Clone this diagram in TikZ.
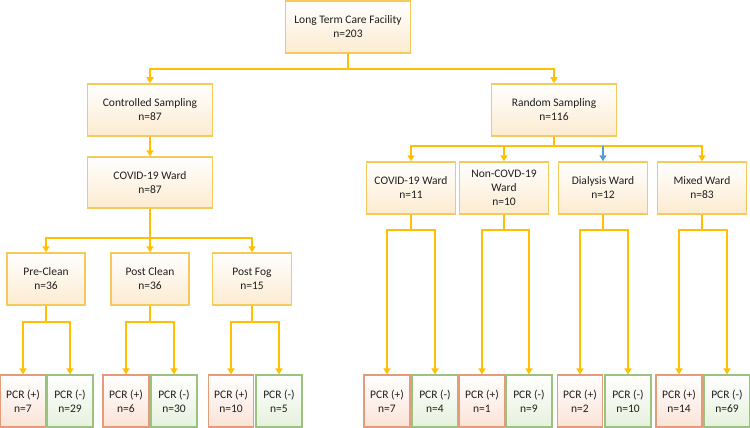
\documentclass[tikz,border=0pt]{standalone}
\usepackage{fontspec}
\setmainfont{Carlito}
\usetikzlibrary{arrows.meta}
\definecolor{gold}{HTML}{FFC000}
\definecolor{boxline}{HTML}{F5C95A}
\definecolor{cream}{HTML}{FCEBD0}
\definecolor{posline}{HTML}{E59A78}
\definecolor{posfill}{HTML}{FBE3D8}
\definecolor{negline}{HTML}{9BC27E}
\definecolor{negfill}{HTML}{E6F1DD}
\definecolor{bluearr}{HTML}{5B9BD5}
\definecolor{txt}{HTML}{1F1F1F}
\tikzset{
  box/.style={draw=boxline, line width=1.5pt, top color=white, bottom color=cream,
    minimum height=52pt, inner sep=1pt, align=center, text=txt,
    font=\fontsize{11.5}{14}\selectfont},
  mainbox/.style={box, minimum width=125pt},
  wardbox/.style={box, minimum width=89pt},
  subbox/.style={box, minimum width=78pt},
  posbox/.style={box, draw=posline, bottom color=posfill, minimum width=46pt, line width=1.2pt},
  negbox/.style={box, draw=negline, bottom color=negfill, minimum width=46pt, line width=1.2pt},
  conn/.style={draw=gold, line width=1.6pt},
  arr/.style={conn, -{Triangle[width=7pt,length=6pt]}, gold},
}
\begin{document}
\begin{tikzpicture}[x=1pt,y=-1pt]
\useasboundingbox (0,0) rectangle (750,428);
% top
\node[mainbox] (top) at (348,27) {Long Term Care Facility\\n=203};
\node[mainbox] (ctrl) at (150,110) {Controlled Sampling\\n=87};
\node[mainbox] (rand) at (554,110) {Random Sampling\\n=116};
\node[mainbox, minimum height=51pt] (cward) at (150,182.5) {COVID-19 Ward\\n=87};
% controlled subgroups
\node[subbox] (pre) at (46,279) {Pre-Clean\\n=36};
\node[subbox] (pclean) at (150,279) {Post Clean\\n=36};
\node[subbox, minimum width=79pt] (pfog) at (252,279) {Post Fog\\n=15};
% random wards
\node[wardbox] (w1) at (411,188) {COVID-19 Ward\\n=11};
\node[wardbox] (w2) at (504,188) {Non-COVD-19\\Ward\\n=10};
\node[wardbox] (w3) at (603,188) {Dialysis Ward\\n=12};
\node[wardbox] (w4) at (702,188) {Mixed Ward\\n=83};
% PCR boxes left
\node[posbox] (p1) at (23,401) {PCR (+)\\n=7};
\node[negbox] (n1) at (70,401) {PCR (-)\\n=29};
\node[posbox] (p2) at (126,401) {PCR (+)\\n=6};
\node[negbox] (n2) at (174,401) {PCR (-)\\n=30};
\node[posbox, minimum width=45pt] (p3) at (231,401) {PCR (+)\\n=10};
\node[negbox] (n3) at (279,401) {PCR (-)\\n=5};
% PCR boxes right
\node[posbox] (p4) at (387,401) {PCR (+)\\n=7};
\node[negbox] (n4) at (435,401) {PCR (-)\\n=4};
\node[posbox] (p5) at (482,401) {PCR (+)\\n=1};
\node[negbox] (n5) at (529,401) {PCR (-)\\n=9};
\node[posbox, minimum width=45pt] (p6) at (580,401) {PCR (+)\\n=2};
\node[negbox] (n6) at (628,401) {PCR (-)\\n=10};
\node[posbox] (p7) at (679,401) {PCR (+)\\n=14};
\node[negbox] (n7) at (727,401) {PCR (-)\\n=69};
% connectors
\draw[arr] (top.south) -- ++(0,15.5) -| (ctrl.north);
\draw[arr] (top.south) -- ++(0,15.5) -| (rand.north);
\draw[arr] (ctrl.south) -- (cward.north);
\draw[arr] (cward.south) -- ++(0,29) -| (pre.north);
\draw[arr] (cward.south) -- (pclean.north);
\draw[arr] (cward.south) -- ++(0,29) -| (pfog.north);
\draw[arr] (rand.south) -- ++(0,9.5) -| (w1.north);
\draw[arr] (rand.south) -- ++(0,9.5) -| (w2.north);
\draw[conn] (rand.south) -- ++(0,9.5) coordinate (rb) -| (w3.north |- rb);
\draw[arr] (rand.south) -- ++(0,9.5) -| (w4.north);
\draw[arr, draw=bluearr, bluearr] (w3.north |- rb) -- (w3.north);
% PCR connectors
\foreach \s/\a/\b in {pre/p1/n1, pclean/p2/n2, pfog/p3/n3}{
  \draw[arr] (\s.south) -- ++(0,16.5) -| (\a.north);
  \draw[arr] (\s.south) -- ++(0,16.5) -| (\b.north);
}
\foreach \s/\a/\b in {w1/p4/n4, w2/p5/n5, w3/p6/n6, w4/p7/n7}{
  \draw[arr] (\s.south) -- ++(0,15.5) -| (\a.north);
  \draw[arr] (\s.south) -- ++(0,15.5) -| (\b.north);
}
\end{tikzpicture}
\end{document}
